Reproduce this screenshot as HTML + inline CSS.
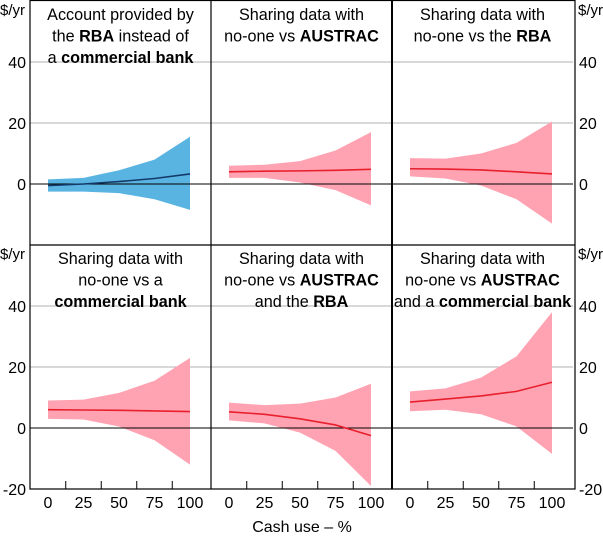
<!DOCTYPE html>
<html><head><meta charset="utf-8"><style>
body{margin:0;background:#fff}
svg{display:block;font-family:"Liberation Sans",Arial,sans-serif}
</style></head><body>
<svg id="c" width="603" height="537"></svg>
<script>
const cats=[0,25,50,75,100];
const titles=[
 ['Account provided by','the <b>RBA</b> instead of','a <b>commercial bank</b>'],
 ['Sharing data with','no-one vs <b>AUSTRAC</b>'],
 ['Sharing data with','no-one vs the <b>RBA</b>'],
 ['Sharing data with','no-one vs a','<b>commercial bank</b>'],
 ['Sharing data with','no-one vs <b>AUSTRAC</b>','and the <b>RBA</b>'],
 ['Sharing data with','no-one vs <b>AUSTRAC</b>','and a <b>commercial bank</b>']];
const upper1=[1.5,2,4.5,8,15.5], lower1=[-2.5,-2.5,-3,-5,-8.5], mid1=[-0.5,0,0.8,1.8,3.3];
const upper2=[6,6.3,7.5,11,17], lower2=[2,2,0.5,-2,-7], mid2=[4,4.2,4.3,4.5,4.8];
const upper3=[8.5,8.3,10,13.5,20.5], lower3=[2.5,1.8,-0.5,-5,-13], mid3=[5,4.9,4.6,4,3.3];
const upper4=[9,9.3,11.5,15.5,23], lower4=[3,2.8,0.5,-4,-12], mid4=[6,5.9,5.8,5.6,5.4];
const upper5=[8.3,7.5,8,10,14.5], lower5=[2.5,1.5,-1.5,-7.5,-19], mid5=[5.3,4.5,3,1,-2.5];
const upper6=[12,13,16.5,23.5,38], lower6=[5.5,6,4.5,0.5,-8.5], mid6=[8.5,9.5,10.5,12,15];
const yTicks=[-20,0,20,40];
const xTickLabels=['0','25','50','75','100'];
const uppers=[upper1,upper2,upper3,upper4,upper5,upper6];
const lowers=[lower1,lower2,lower3,lower4,lower5,lower6];
const mids=[mid1,mid2,mid3,mid4,mid5,mid6];

const NS='http://www.w3.org/2000/svg', svg=document.getElementById('c');
function el(t,a,p){const e=document.createElementNS(NS,t);for(const k in a)e.setAttribute(k,a[k]);(p||svg).appendChild(e);return e;}
const colX=[30,211,392], colW=181, L=30, R=575;
const rowTop=[1,245], rowZero=[184,428], pxPer=61/20;
function X(c,v){return colX[c]+18+v/100*142;}
function Y(r,v){return rowZero[r]-v*pxPer;}

for(let p=0;p<6;p++){
  const r=Math.floor(p/3), c=p%3;
  const g=el('g',{});
  
  
  [20,40].forEach(v=>el('line',{x1:colX[c],x2:colX[c]+colW,y1:Y(r,v),y2:Y(r,v),stroke:'#b0b0b0','stroke-width':1},g));
  const blue=p===0;
  let d='';
  cats.forEach((v,i)=>d+=(i?'L':'M')+X(c,v)+','+Y(r,uppers[p][i]));
  for(let i=cats.length-1;i>=0;i--)d+='L'+X(c,cats[i])+','+Y(r,lowers[p][i]);
  const band=el('path',{d:d+'Z',fill:blue?'#5ab4e2':'#ffa3b3'},g);
  
  
  el('line',{x1:colX[c],x2:colX[c]+colW,y1:Y(r,0),y2:Y(r,0),stroke:'#000','stroke-width':1},g);
  let m='';
  cats.forEach((v,i)=>m+=(i?'L':'M')+X(c,v)+','+Y(r,mids[p][i]));
  const ln=el('path',{d:m,fill:'none',stroke:blue?'#143a6a':'#e8202e','stroke-width':1.6},g);
  
  
  const t=el('text',{x:colX[c]+colW/2,'text-anchor':'middle','font-size':16.2,fill:'#000'},g);
  
  
  titles[p].forEach((s,i)=>{
    const ts=el('tspan',{x:colX[c]+colW/2,y:rowTop[r]+19+i*21.5},t);
    ts.innerHTML=s.replace(/<b>/g,'<tspan font-weight="bold">').replace(/<\/b>/g,'</tspan>');
  });
  if(r===1){
    [12.5,37.5,62.5,87.5].forEach(v=>el('line',{x1:X(c,v),x2:X(c,v),y1:489,y2:481,stroke:'#000'},g));
    xTickLabels.forEach((s,i)=>{const tx=el('text',{x:X(c,cats[i]),y:508,'text-anchor':'middle','font-size':16},g);tx.textContent=s;
      });
  }
}
el('rect',{x:L,y:0.5,width:R-L,height:488.5,fill:'none',stroke:'#000','stroke-width':1.2});
el('line',{x1:L,x2:R,y1:245,y2:245,stroke:'#000','stroke-width':1.2});
el('line',{x1:211,x2:211,y1:0,y2:489,stroke:'#000','stroke-width':1.2});
el('line',{x1:392,x2:392,y1:0,y2:489,stroke:'#000','stroke-width':2});
for(let r=0;r<2;r++){
  yTicks.forEach(v=>{
    if(r===0&&v===-20)return;
    const a=el('text',{x:26,y:Y(r,v)+6,'text-anchor':'end','font-size':16});a.textContent=v;
    
    const b=el('text',{x:579,y:Y(r,v)+6,'text-anchor':'start','font-size':16});b.textContent=v;
    
  });
  const u1=el('text',{x:0,y:rowTop[r]+14,'font-size':15});u1.textContent='$/yr';
  
  const u2=el('text',{x:603,y:rowTop[r]+14,'font-size':15,'text-anchor':'end'});u2.textContent='$/yr';
  
}
const xt=el('text',{x:302,y:532,'text-anchor':'middle','font-size':16});xt.textContent='Cash use – %';

</script>
</body></html>
